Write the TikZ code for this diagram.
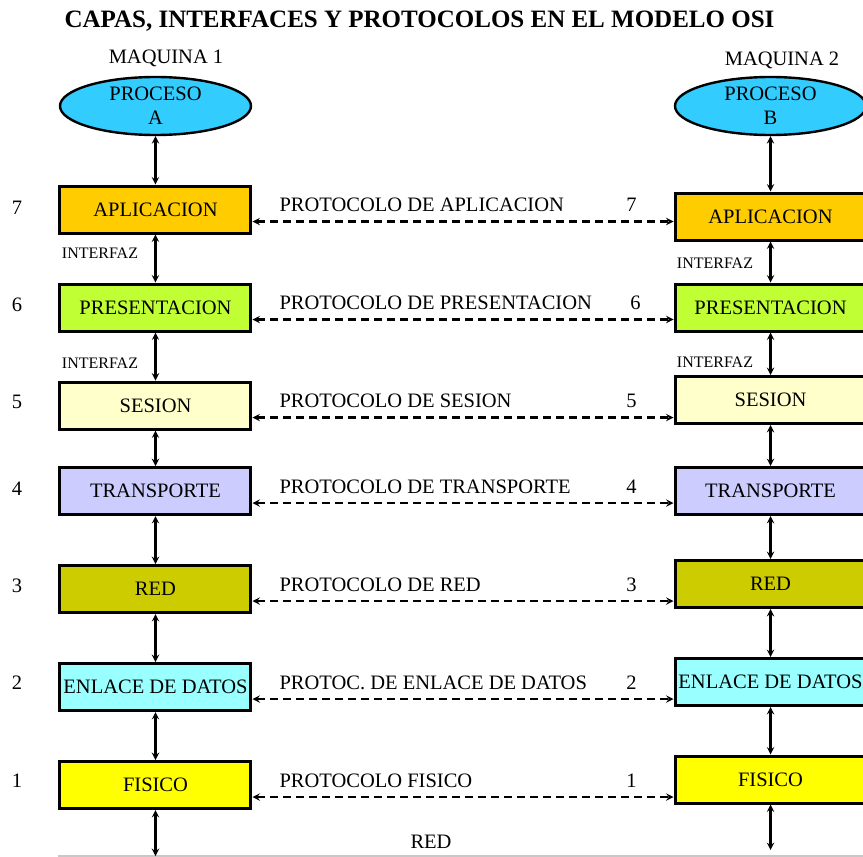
\documentclass[tikz,border=0pt]{standalone}
\usepackage{fontspec}
\setmainfont{Liberation Serif}
\usetikzlibrary{shapes.geometric}

\definecolor{procblue}{HTML}{33CCFF}
\definecolor{aplorange}{HTML}{FFCC00}
\definecolor{prelime}{HTML}{C0FF33}
\definecolor{sescream}{HTML}{FFFFCC}
\definecolor{tralilac}{HTML}{CCCCFF}
\definecolor{redolive}{HTML}{CCCC00}
\definecolor{enlcyan}{HTML}{99FFFF}
\definecolor{fisyellow}{HTML}{FFFF00}
\definecolor{netgray}{HTML}{C8C8C8}

\tikzstyle{layer} = [rectangle, minimum width=191pt, minimum height=47pt, inner sep=0pt, text centered, draw=black, line width=3pt, font=\fontsize{20.5}{24}\selectfont]
\tikzstyle{proc} = [ellipse, minimum width=191pt, minimum height=58pt, inner sep=0pt, align=center, draw=black, line width=2.4pt, fill=procblue, font=\fontsize{20.5}{24}\selectfont]
\tikzstyle{box-nb} = [rectangle, inner sep=0pt, text centered, font=\fontsize{20.5}{24}\selectfont]
\tikzstyle{box-sm} = [rectangle, inner sep=0pt, text centered, font=\fontsize{16}{18}\selectfont]
\tikzstyle{link} = [line width=2.2pt,<->,>=stealth]
\tikzstyle{proto} = [line width=2.2pt,dash pattern=on 8pt off 5pt,<->,>=stealth]
\tikzstyle{netline} = [line width=2pt, draw=netgray]

\begin{document}
\begin{tikzpicture}[node distance=98pt]
  \useasboundingbox (-155.5pt,209.5pt) rectangle (707.5pt,-647.5pt);
  \node (title) [box-nb] at (264pt,188pt) {\fontsize{25}{30}\selectfont\bfseries CAPAS, INTERFACES Y PROTOCOLOS EN EL MODELO OSI};

  % maquina 1
  \node (l_apl) [layer, fill=aplorange] {APLICACION};
  \node (l_pre) [layer, fill=prelime, below of=l_apl] {PRESENTACION};
  \node (l_ses) [layer, fill=sescream, below of=l_pre] {SESION};
  \node (l_tra) [layer, fill=tralilac, below of=l_ses, yshift=12.5pt] {TRANSPORTE};
  \node (l_red) [layer, fill=redolive, below of=l_tra] {RED};
  \node (l_enl) [layer, fill=enlcyan, below of=l_red] {ENLACE DE DATOS};
  \node (l_fis) [layer, fill=fisyellow, below of=l_enl] {FISICO};
  \node (proc_a) [proc, above of=l_apl, yshift=5.5pt] {PROCESO\\A};
  \node (maq_1) [box-nb, above of=proc_a, xshift=10.5pt, yshift=-50pt] {MAQUINA 1};
  \node (if_apl) [box-sm, below of=l_apl, xshift=-55.5pt, yshift=54.5pt] {INTERFAZ};
  \node (if_pre) [box-sm, below of=l_pre, xshift=-55.5pt, yshift=42pt] {INTERFAZ};

  % numeros de capa
  \node (n_7) [box-nb, left of=l_apl, xshift=-40.5pt, yshift=2pt] {7};
  \node (n_6) [box-nb, left of=l_pre, xshift=-40.5pt, yshift=3pt] {6};
  \node (n_5) [box-nb, left of=l_ses, xshift=-40.5pt, yshift=4pt] {5};
  \node (n_4) [box-nb, left of=l_tra, xshift=-40.5pt, yshift=2pt] {4};
  \node (n_3) [box-nb, left of=l_red, xshift=-40.5pt, yshift=3pt] {3};
  \node (n_2) [box-nb, left of=l_enl, xshift=-40.5pt, yshift=4pt] {2};
  \node (n_1) [box-nb, left of=l_fis, xshift=-40.5pt, yshift=4pt] {1};

  % maquina 2
  \node (r_apl) [layer, fill=aplorange, right of=l_apl, xshift=517pt, yshift=-7pt] {APLICACION};
  \node (r_pre) [layer, fill=prelime, right of=l_pre, xshift=517pt] {PRESENTACION};
  \node (r_ses) [layer, fill=sescream, right of=l_ses, xshift=517pt, yshift=5.5pt] {SESION};
  \node (r_tra) [layer, fill=tralilac, right of=l_tra, xshift=517pt] {TRANSPORTE};
  \node (r_red) [layer, fill=redolive, right of=l_red, xshift=517pt, yshift=5pt] {RED};
  \node (r_enl) [layer, fill=enlcyan, right of=l_enl, xshift=517pt, yshift=5pt] {ENLACE DE DATOS};
  \node (r_fis) [layer, fill=fisyellow, right of=l_fis, xshift=517pt, yshift=5.5pt] {FISICO};
  \node (proc_b) [proc, right of=proc_a, xshift=517pt] {PROCESO\\B};
  \node (maq_2) [box-nb, above of=proc_b, xshift=11.5pt, yshift=-52pt] {MAQUINA 2};
  \node (ir_apl) [box-sm, below of=r_apl, xshift=-55.5pt, yshift=51.5pt] {INTERFAZ};
  \node (ir_pre) [box-sm, below of=r_pre, xshift=-55.5pt, yshift=43.5pt] {INTERFAZ};

  % red
  \node (net_l) [coordinate, below of=l_fis, yshift=27pt] {};
  \node (net_r) [coordinate, below of=r_fis, yshift=27.5pt] {};
  \node (red_net) [box-nb, right of=l_fis, xshift=177.5pt, yshift=-57pt] {RED};
  \draw [netline] (l_fis.west |- net_l) -- (r_fis.east |- net_l);

  \draw [link] (proc_a) -- (l_apl);
  \draw [link] (l_apl) -- (l_pre);
  \draw [link] (l_pre) -- (l_ses);
  \draw [link] (l_ses) -- (l_tra);
  \draw [link] (l_tra) -- (l_red);
  \draw [link] (l_red) -- (l_enl);
  \draw [link] (l_enl) -- (l_fis);
  \draw [link] (l_fis) -- (net_l);
  \draw [link] (proc_b) -- (r_apl);
  \draw [link] (r_apl) -- (r_pre);
  \draw [link] (r_pre) -- (r_ses);
  \draw [link] (r_ses) -- (r_tra);
  \draw [link] (r_tra) -- (r_red);
  \draw [link] (r_red) -- (r_enl);
  \draw [link] (r_enl) -- (r_fis);
  \draw [link] (r_fis) -- (net_r);

  % protocolos
  \coordinate (p_apl) at ([yshift=-12pt]l_apl.east);
  \coordinate (p_pre) at ([yshift=-12pt]l_pre.east);
  \coordinate (p_ses) at ([yshift=-12pt]l_ses.east);
  \coordinate (p_tra) at ([yshift=-12pt]l_tra.east);
  \coordinate (p_red) at ([yshift=-12pt]l_red.east);
  \coordinate (p_enl) at ([yshift=-12pt]l_enl.east);
  \coordinate (p_fis) at ([yshift=-12pt]l_fis.east);
  \draw [proto] (p_apl) -- node (t_apl) [box-nb, pos=0, anchor=base west, xshift=26pt, yshift=10pt] {PROTOCOLO DE APLICACION} node (m_apl) [box-nb, pos=1, anchor=base, xshift=-42pt, yshift=10pt] {7} (p_apl -| r_apl.west);
  \draw [proto] (p_pre) -- node (t_pre) [box-nb, pos=0, anchor=base west, xshift=26pt, yshift=10pt] {PROTOCOLO DE PRESENTACION} node (m_pre) [box-nb, pos=1, anchor=base, xshift=-38pt, yshift=10pt] {6} (p_pre -| r_pre.west);
  \draw [proto] (p_ses) -- node (t_ses) [box-nb, pos=0, anchor=base west, xshift=26pt, yshift=10pt] {PROTOCOLO DE SESION} node (m_ses) [box-nb, pos=1, anchor=base, xshift=-42pt, yshift=10pt] {5} (p_ses -| r_ses.west);
  \draw [proto] (p_tra) -- node (t_tra) [box-nb, pos=0, anchor=base west, xshift=26pt, yshift=10pt] {PROTOCOLO DE TRANSPORTE} node (m_tra) [box-nb, pos=1, anchor=base, xshift=-42pt, yshift=10pt] {4} (p_tra -| r_tra.west);
  \draw [proto] (p_red) -- node (t_red) [box-nb, pos=0, anchor=base west, xshift=26pt, yshift=10pt] {PROTOCOLO DE RED} node (m_red) [box-nb, pos=1, anchor=base, xshift=-42pt, yshift=10pt] {3} (p_red -| r_red.west);
  \draw [proto] (p_enl) -- node (t_enl) [box-nb, pos=0, anchor=base west, xshift=26pt, yshift=10pt] {PROTOC. DE ENLACE DE DATOS} node (m_enl) [box-nb, pos=1, anchor=base, xshift=-42pt, yshift=10pt] {2} (p_enl -| r_enl.west);
  \draw [proto] (p_fis) -- node (t_fis) [box-nb, pos=0, anchor=base west, xshift=26pt, yshift=10pt] {PROTOCOLO FISICO} node (m_fis) [box-nb, pos=1, anchor=base, xshift=-42pt, yshift=10pt] {1} (p_fis -| r_fis.west);
\end{tikzpicture}
\end{document}
